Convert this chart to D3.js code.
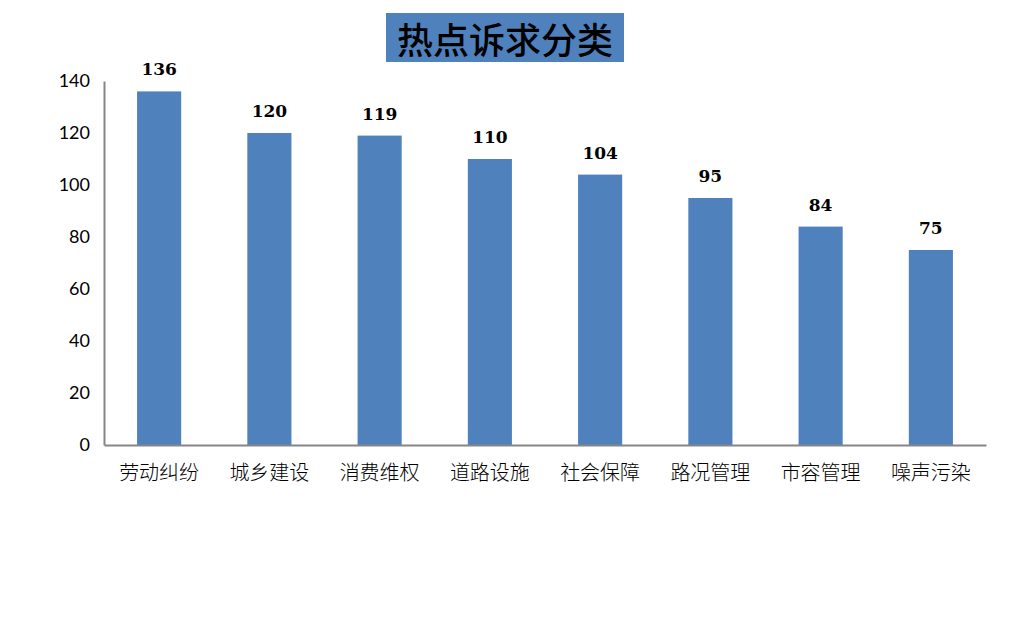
<!DOCTYPE html>
<html>
<head>
<meta charset="utf-8">
<script src="https://cdn.jsdelivr.net/npm/d3@7"></script>
<style>
  body { margin: 0; background: #fff; }
</style>
</head>
<body>
<div id="chart"></div>
<script>
const categories = ["劳动纠纷", "城乡建设", "消费维权", "道路设施", "社会保障", "路况管理", "市容管理", "噪声污染"];
const values = [136, 120, 119, 110, 104, 95, 84, 75];
const yTicks = [0, 20, 40, 60, 80, 100, 120, 140];
const title = "热点诉求分类";

const width = 1010, height = 633;
const margin = {top: 81, right: 24, bottom: 188, left: 104};

let svg = d3.select("#chart").append("svg")
  .attr("width", width)
  .attr("height", height);

let x = d3.scaleBand()
  .domain(categories)
  .range([margin.left, width - margin.right])
  .paddingInner(0.6)
  .paddingOuter(0.3);

let y = d3.scaleLinear()
  .domain([0, 140])
  .range([height - margin.bottom, margin.top]);

// title box
let tg = svg.append("g");
tg.append("rect")
  .attr("x", 386).attr("y", 13)
  .attr("width", 238).attr("height", 49)
  .attr("fill", "#4F81BD");
tg.append("text")
  .attr("x", 505).attr("y", 38)
  .attr("text-anchor", "middle")
  .attr("dominant-baseline", "central")
  .style("font-family", "'Noto Sans CJK SC', sans-serif")
  .style("font-size", "36px")
  .style("font-weight", "500")
  .style("fill", "#000")
  .text(title);

// bars
svg.selectAll(".bar")
  .data(values)
  .enter()
  .append("rect")
    .attr("class", "bar")
    .attr("x", (d, i) => x(categories[i]))
    .attr("y", d => y(d))
    .attr("width", x.bandwidth())
    .attr("height", d => y(0) - y(d))
    .attr("fill", "#4F81BD");

// value labels
svg.selectAll(".val")
  .data(values)
  .enter()
  .append("text")
    .attr("class", "val")
    .attr("x", (d, i) => x(categories[i]) + x.bandwidth() / 2)
    .attr("y", d => y(d) - 16)
    .attr("text-anchor", "middle")
    .style("font-family", "'DejaVu Serif', serif")
    .style("font-size", "17px")
    .style("font-weight", "bold")
    .style("fill", "#000")
    .text(d => d);

// y axis
let yAxis = svg.append("g")
  .attr("transform", "translate(" + margin.left + ",0)")
  .call(d3.axisLeft(y).tickValues(yTicks).tickSize(0).tickPadding(14));
yAxis.select(".domain").attr("stroke", "#868686").attr("stroke-width", 2);
yAxis.selectAll("text")
  .style("font-family", "Lato, 'Open Sans', sans-serif")
  .style("font-size", "18px")
  .style("fill", "#000");

// x axis
let xAxis = svg.append("g")
  .attr("transform", "translate(0," + y(0) + ")")
  .call(d3.axisBottom(x).tickSize(0).tickPadding(21));
xAxis.select(".domain").attr("stroke", "#868686").attr("stroke-width", 2);
xAxis.selectAll("text")
  .style("font-family", "'Noto Sans CJK SC', sans-serif")
  .style("font-size", "20px")
  .style("font-weight", "300")
  .style("fill", "#000");
</script>
</body>
</html>
